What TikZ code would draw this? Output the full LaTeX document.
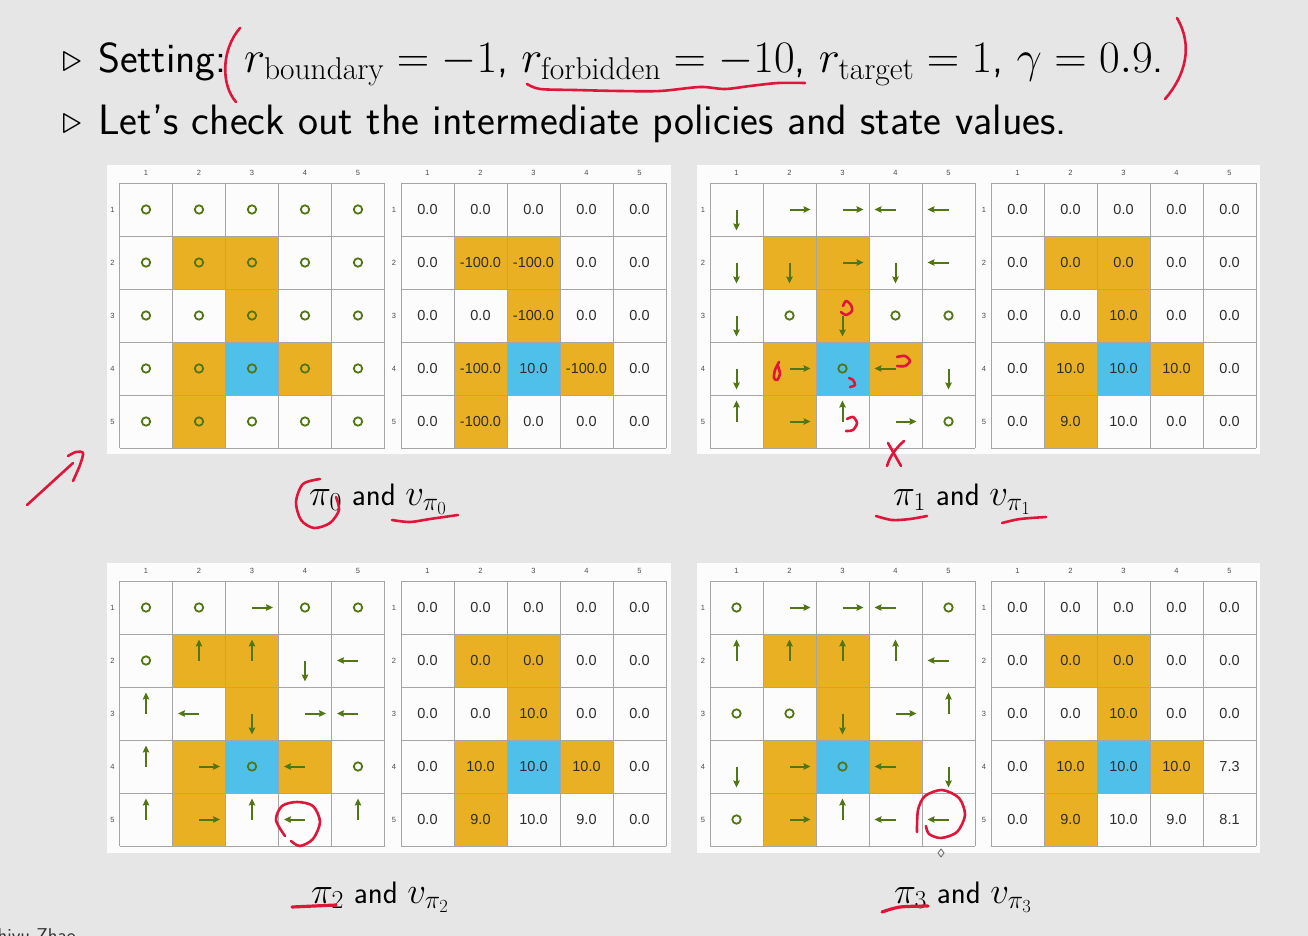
\RequirePackage{fix-cm}
\documentclass[tikz,border=0pt]{standalone}
\usepackage{fontspec}
\newfontfamily\arialf{Liberation Sans}
\usetikzlibrary{arrows.meta}
\definecolor{bgc}{RGB}{230,230,230}
\definecolor{forb}{RGB}{234,176,36}
\definecolor{targ}{RGB}{78,192,234}
\definecolor{agreen}{RGB}{82,118,20}
\definecolor{gline}{RGB}{165,165,165}
\definecolor{inkc}{RGB}{222,22,58}
\definecolor{numc}{RGB}{45,45,45}
\newcommand\titlemath[1]{{\fontsize{45}{52}\selectfont$#1$}}
\newcommand\capmath[1]{{\fontsize{37}{42}\selectfont$#1$}}
\tikzset{
  parrow/.style={draw=agreen, line width=2.0, -{Stealth[length=7pt,width=6.5pt,inset=1pt]}},
  pring/.style={draw=agreen, line width=1.8},
  lab/.style={font=\arialf\fontsize{7.5}{9}\selectfont, text=black!70, inner sep=0pt},
  val/.style={font=\arialf\fontsize{14.5}{17}\selectfont, text=numc, inner sep=0pt},
  ink/.style={draw=inkc, line width=2.6, line cap=round, line join=round},
  panel/.style={fill=white!99!black, draw=none},
  caption/.style={anchor=base, inner sep=0pt, font=\fontsize{31}{36}\selectfont\sffamily},
}
\newcommand\gridframe[2]{%
  \foreach \r/\c in {2/2,2/3,3/3,4/2,4/4,5/2}
    \fill[forb] ({#1+(\c-1)*53},{#2+(\r-1)*53}) rectangle ++(53,53);
  \fill[targ] ({#1+2*53},{#2+3*53}) rectangle ++(53,53);
  \foreach \i in {0,...,5} {
    \draw[gline, line width=0.9] ({#1+\i*53},#2) -- ++(0,265);
    \draw[gline, line width=0.9] (#1,{#2+\i*53}) -- ++(265,0);
  }
  \foreach \i in {1,...,5} {
    \node[lab] at ({#1+(\i-0.5)*53},{#2-10}) {\i};
    \node[lab] at ({#1-7},{#2+(\i-0.5)*53}) {\i};
  }
}
\newcommand\actO{\draw[pring] (p) circle[radius=4.2];}
\newcommand\actR{\draw[parrow] (p) -- ++(21,0);}
\newcommand\actL{\draw[parrow] (p) -- ++(-21,0);}
\newcommand\actU{\draw[parrow] (p) -- ++(0,-21);}
\newcommand\actD{\draw[parrow] (p) -- ++(0,21);}
\newcommand\policygrid[3]{%
  \gridframe{#1}{#2}
  \foreach \a [count=\k from 0] in {#3} {
    \pgfmathtruncatemacro\rr{div(\k,5)}
    \pgfmathtruncatemacro\cc{mod(\k,5)}
    \coordinate (p) at ({#1+(\cc+0.5)*53},{#2+(\rr+0.5)*53});
    \csname act\a\endcsname
  }
}
\newcommand\valuegrid[3]{%
  \gridframe{#1}{#2}
  \foreach \v [count=\k from 0] in {#3} {
    \pgfmathtruncatemacro\rr{div(\k,5)}
    \pgfmathtruncatemacro\cc{mod(\k,5)}
    \node[val] at ({#1+(\cc+0.5)*53},{#2+(\rr+0.5)*53}) {\v};
  }
}
\begin{document}
\begin{tikzpicture}[x=1pt,y=-1pt]
\clip (0,0) rectangle (1308,936);
\fill[bgc] (0,0) rectangle (1308,936);
% title
\node[anchor=base west, inner sep=0pt, font=\fontsize{40}{46}\selectfont] (b1) at (62,72) {$\triangleright$};
\node[anchor=base west, inner sep=0pt, font=\fontsize{42}{50}\selectfont\sffamily] (t1) at (98,73)
  {Setting: \titlemath{r_{\mathrm{boundary}}=-1}, \titlemath{r_{\mathrm{forbidden}}=-10}, \titlemath{r_{\mathrm{target}}=1}, \titlemath{\gamma=0.9}.};
\node[anchor=base west, inner sep=0pt, font=\fontsize{40}{46}\selectfont] (b2) at (62,134) {$\triangleright$};
\node[anchor=base west, inner sep=0pt, font=\fontsize{42.5}{50}\selectfont\sffamily] (t2) at (98,135)
  {Let's check out the intermediate policies and state values.};
% panels
\fill[panel] (107,165) rectangle (671,454);
\fill[panel] (697,165) rectangle (1260,454);
\fill[panel] (107,563) rectangle (671,853);
\fill[panel] (697,563) rectangle (1260,853);
% pi0 / v0
\policygrid{119.5}{183}{O,O,O,O,O,O,O,O,O,O,O,O,O,O,O,O,O,O,O,O,O,O,O,O,O}
\valuegrid{401}{183}{0.0,0.0,0.0,0.0,0.0,0.0,-100.0,-100.0,0.0,0.0,0.0,0.0,-100.0,0.0,0.0,0.0,-100.0,10.0,-100.0,0.0,0.0,-100.0,0.0,0.0,0.0}
% pi1 / v1
\policygrid{710}{183}{D,R,R,L,L,D,D,R,D,L,D,O,D,O,O,D,R,O,L,D,U,R,U,R,O}
\valuegrid{991}{183}{0.0,0.0,0.0,0.0,0.0,0.0,0.0,0.0,0.0,0.0,0.0,0.0,10.0,0.0,0.0,0.0,10.0,10.0,10.0,0.0,0.0,9.0,10.0,0.0,0.0}
% pi2 / v2
\policygrid{119.5}{581}{O,O,R,O,O,O,U,U,D,L,U,L,D,R,L,U,R,O,L,O,U,R,U,L,U}
\valuegrid{401}{581}{0.0,0.0,0.0,0.0,0.0,0.0,0.0,0.0,0.0,0.0,0.0,0.0,10.0,0.0,0.0,0.0,10.0,10.0,10.0,0.0,0.0,9.0,10.0,9.0,0.0}
% pi3 / v3
\policygrid{710}{581}{O,R,R,L,O,U,U,U,U,L,O,O,D,R,U,D,R,O,L,D,O,R,U,L,L}
\valuegrid{991}{581}{0.0,0.0,0.0,0.0,0.0,0.0,0.0,0.0,0.0,0.0,0.0,0.0,10.0,0.0,0.0,0.0,10.0,10.0,10.0,7.3,0.0,9.0,10.0,9.0,8.1}
% captions
\node[caption] (c0) at (378,505) {\capmath{\pi_0} and \capmath{v_{\pi_0}}};
\node[caption] (c1) at (962,505) {\capmath{\pi_1} and \capmath{v_{\pi_1}}};
\node[caption] (c2) at (380,903) {\capmath{\pi_2} and \capmath{v_{\pi_2}}};
\node[caption] (c3) at (963,903) {\capmath{\pi_3} and \capmath{v_{\pi_3}}};
% author (cut off)
\node[anchor=north west, inner sep=0pt, font=\fontsize{20}{22}\selectfont\sffamily, text=black!80] (au) at (-13,928) {Shiyu Zhao};
% cursor
\draw[black!60, line width=0.8] (941,849) -- (944,853) -- (941,857) -- (938,853) -- cycle;
% red annotations
\draw[ink] (240,28) .. controls (221,50) and (221,85) .. (236,102);
\draw[ink] (1177,18) .. controls (1193,45) and (1186,75) .. (1165,99);
\draw[ink] plot[smooth] coordinates {(527,84) (540,89) (575,90) (620,91) (660,91) (700,87) (725,89) (750,86) (778,83) (805,83)};
\draw[ink] (27,505) -- (73,463);
\draw[ink] plot[smooth] coordinates {(68,456) (76,452) (83,453) (80,465) (73,481)};
\draw[ink] plot[smooth] coordinates {(320,479) (303,484) (296,502) (301,520) (314,528) (330,523) (339,510) (336,497)};
\draw[ink] plot[smooth] coordinates {(392,520) (410,522) (430,519) (458,515)};
\draw[ink] plot[smooth] coordinates {(876,516) (892,520) (910,519) (927,516)};
\draw[ink] plot[smooth] coordinates {(1002,523) (1020,519) (1046,517)};
\draw[ink, line width=3.2] (292,907) -- (336,905);
\draw[ink, line width=3.2] plot[smooth] coordinates {(882,912) (900,907) (928,906)};
\draw[ink] (888,443) -- (901,466);
\draw[ink] (904,441) .. controls (896,448) and (890,456) .. (887,466);
% small red marks in pi1 grid
\draw[ink] plot[smooth] coordinates {(843,306) (846,301) (851,305) (852,311) (846,315) (841,312)};
\draw[ink] plot[smooth] coordinates {(779,362) (775,370) (774,378) (777,380) (780,374) (778,366)};
\draw[ink] plot[smooth] coordinates {(897,357) (905,356) (910,361) (905,366) (897,366)};
\draw[ink] plot[smooth] coordinates {(849,378) (853,380) (855,385) (850,387)};
\draw[ink] plot[smooth] coordinates {(847,419) (853,417) (857,423) (853,430) (846,431)};
% red circles in pi2 / pi3 grids
\draw[ink] plot[smooth] coordinates {(285,836) (276,820) (282,806) (297,802) (313,806) (320,822) (313,839) (300,846) (291,841)};
\draw[ink] plot[smooth] coordinates {(917,832) (918,810) (925,796) (942,790) (959,798) (965,815) (957,832) (941,838) (929,834) (926,826)};
\end{tikzpicture}
\end{document}
